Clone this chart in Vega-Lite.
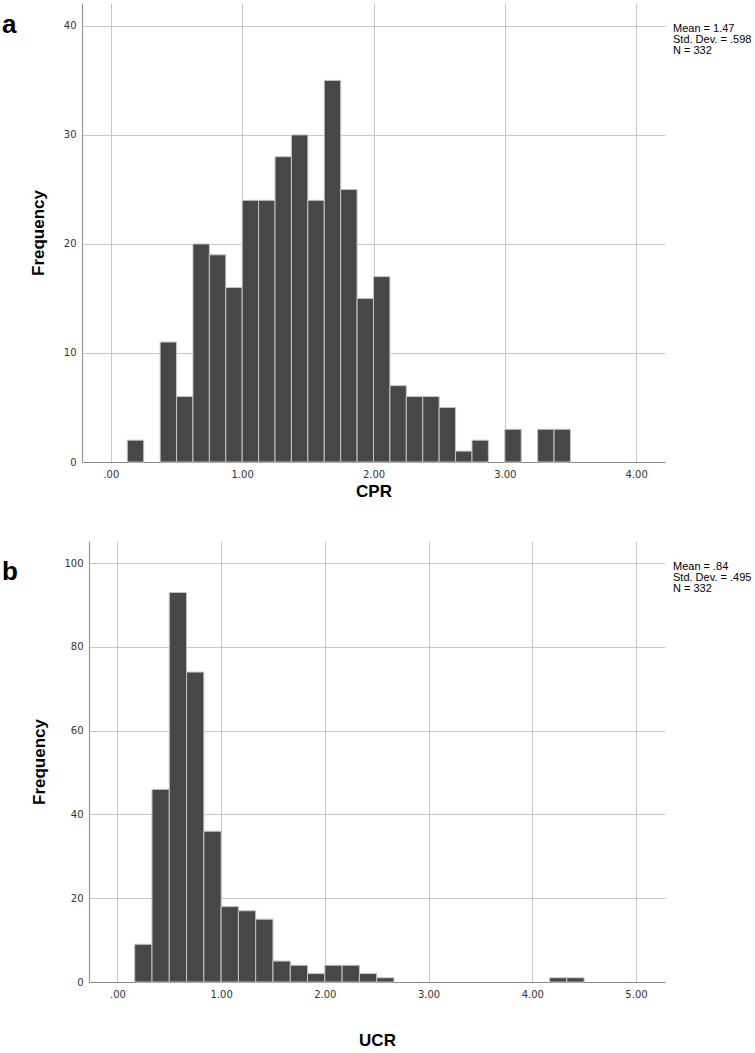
{
  "$schema": "https://vega.github.io/schema/vega-lite/v6.json",
  "padding": {"left": 2, "top": 3, "right": 0, "bottom": 0},
  "autosize": {"type": "pad"},
  "background": "white",
  "spacing": 42,
  "config": {
    "view": {"stroke": null},
    "axis": {
      "labelFont": "DejaVu Sans", "labelFontSize": 10, "labelColor": "#333",
      "titleFont": "Liberation Sans", "titleFontSize": 17, "titleFontWeight": "bold", "titleColor": "#000",
      "gridColor": "#c8c8c8", "gridWidth": 1, "ticks": false,
      "domainColor": "#999", "domainWidth": 1.2, "labelFlush": false
    }
  },
  "datasets": {
    "cpr": [
      {"bin_start": 0.125, "bin_end": 0.25, "count": 2},
      {"bin_start": 0.375, "bin_end": 0.5, "count": 11},
      {"bin_start": 0.5, "bin_end": 0.625, "count": 6},
      {"bin_start": 0.625, "bin_end": 0.75, "count": 20},
      {"bin_start": 0.75, "bin_end": 0.875, "count": 19},
      {"bin_start": 0.875, "bin_end": 1.0, "count": 16},
      {"bin_start": 1.0, "bin_end": 1.125, "count": 24},
      {"bin_start": 1.125, "bin_end": 1.25, "count": 24},
      {"bin_start": 1.25, "bin_end": 1.375, "count": 28},
      {"bin_start": 1.375, "bin_end": 1.5, "count": 30},
      {"bin_start": 1.5, "bin_end": 1.625, "count": 24},
      {"bin_start": 1.625, "bin_end": 1.75, "count": 35},
      {"bin_start": 1.75, "bin_end": 1.875, "count": 25},
      {"bin_start": 1.875, "bin_end": 2.0, "count": 15},
      {"bin_start": 2.0, "bin_end": 2.125, "count": 17},
      {"bin_start": 2.125, "bin_end": 2.25, "count": 7},
      {"bin_start": 2.25, "bin_end": 2.375, "count": 6},
      {"bin_start": 2.375, "bin_end": 2.5, "count": 6},
      {"bin_start": 2.5, "bin_end": 2.625, "count": 5},
      {"bin_start": 2.625, "bin_end": 2.75, "count": 1},
      {"bin_start": 2.75, "bin_end": 2.875, "count": 2},
      {"bin_start": 3.0, "bin_end": 3.125, "count": 3},
      {"bin_start": 3.25, "bin_end": 3.375, "count": 3},
      {"bin_start": 3.375, "bin_end": 3.5, "count": 3}
    ],
    "ucr": [
      {"bin_start": 0.1667, "bin_end": 0.3333, "count": 9},
      {"bin_start": 0.3333, "bin_end": 0.5, "count": 46},
      {"bin_start": 0.5, "bin_end": 0.6667, "count": 93},
      {"bin_start": 0.6667, "bin_end": 0.8333, "count": 74},
      {"bin_start": 0.8333, "bin_end": 1.0, "count": 36},
      {"bin_start": 1.0, "bin_end": 1.1667, "count": 18},
      {"bin_start": 1.1667, "bin_end": 1.3333, "count": 17},
      {"bin_start": 1.3333, "bin_end": 1.5, "count": 15},
      {"bin_start": 1.5, "bin_end": 1.6667, "count": 5},
      {"bin_start": 1.6667, "bin_end": 1.8333, "count": 4},
      {"bin_start": 1.8333, "bin_end": 2.0, "count": 2},
      {"bin_start": 2.0, "bin_end": 2.1667, "count": 4},
      {"bin_start": 2.1667, "bin_end": 2.3333, "count": 4},
      {"bin_start": 2.3333, "bin_end": 2.5, "count": 2},
      {"bin_start": 2.5, "bin_end": 2.6667, "count": 1},
      {"bin_start": 4.1667, "bin_end": 4.3333, "count": 1},
      {"bin_start": 4.3333, "bin_end": 4.5, "count": 1}
    ],
    "labelA": [{"panel": "a", "stats": "Mean = 1.47\nStd. Dev. = .598\nN = 332"}],
    "labelB": [{"panel": "b", "stats": "Mean = .84\nStd. Dev. = .495\nN = 332"}]
  },
  "vconcat": [
    {
      "width": 583,
      "height": 459,
      "layer": [
        {
          "data": {"name": "cpr"},
          "mark": {"type": "bar", "fill": "#474747", "stroke": "#c4c4c4", "strokeWidth": 1},
          "encoding": {
            "x": {"field": "bin_start", "type": "quantitative",
              "scale": {"domain": [-0.22, 4.22], "nice": false, "zero": false},
              "axis": {"title": "CPR", "values": [0, 1, 2, 3, 4], "labelExpr": "datum.value == 0 ? '.00' : format(datum.value, '.2f')", "labelPadding": 7, "titlePadding": 4, "grid": true, "domainColor": "#888"}},
            "x2": {"field": "bin_end"},
            "y": {"field": "count", "type": "quantitative",
              "scale": {"domain": [0, 42.1], "nice": false},
              "axis": {"title": "Frequency", "values": [0, 10, 20, 30, 40], "labelPadding": 6, "titlePadding": 16, "grid": true}},
            "y2": {"datum": 0}
          }
        },
        {
          "data": {"name": "labelA"},
          "mark": {"type": "text", "align": "left", "baseline": "top", "dx": 8, "font": "Liberation Sans", "fontSize": 11, "lineHeight": 11, "lineBreak": "\n", "color": "#000"},
          "encoding": {
            "x": {"datum": 4.22, "type": "quantitative"},
            "y": {"datum": 40.3, "type": "quantitative"},
            "text": {"field": "stats"}
          }
        },
        {
          "data": {"name": "labelA"},
          "mark": {"type": "text", "align": "left", "baseline": "alphabetic", "dx": -80, "dy": 30, "font": "Liberation Sans", "fontSize": 26, "fontWeight": "bold", "color": "#000"},
          "encoding": {
            "x": {"datum": -0.22, "type": "quantitative"},
            "y": {"datum": 42.1, "type": "quantitative"},
            "text": {"field": "panel"}
          }
        }
      ]
    },
    {
      "width": 583,
      "height": 441,
      "layer": [
        {
          "data": {"name": "ucr"},
          "mark": {"type": "bar", "fill": "#474747", "stroke": "#c4c4c4", "strokeWidth": 1},
          "encoding": {
            "x": {"field": "bin_start", "type": "quantitative",
              "scale": {"domain": [-0.274, 5.28], "range": [7, 583], "nice": false, "zero": false},
              "axis": {"title": "UCR", "values": [0, 1, 2, 3, 4, 5], "labelExpr": "datum.value == 0 ? '.00' : format(datum.value, '.2f')", "labelPadding": 7, "titlePadding": 33, "grid": true, "domainColor": "#888"}},
            "x2": {"field": "bin_end"},
            "y": {"field": "count", "type": "quantitative",
              "scale": {"domain": [0, 105.3], "nice": false},
              "axis": {"title": "Frequency", "values": [0, 20, 40, 60, 80, 100], "labelPadding": 6, "titlePadding": 15, "grid": true, "offset": -7}},
            "y2": {"datum": 0}
          }
        },
        {
          "data": {"name": "labelB"},
          "mark": {"type": "text", "align": "left", "baseline": "top", "dx": 8, "font": "Liberation Sans", "fontSize": 11, "lineHeight": 11, "lineBreak": "\n", "color": "#000"},
          "encoding": {
            "x": {"datum": 5.28, "type": "quantitative"},
            "y": {"datum": 100.6, "type": "quantitative"},
            "text": {"field": "stats"}
          }
        },
        {
          "data": {"name": "labelB"},
          "mark": {"type": "text", "align": "left", "baseline": "alphabetic", "dx": -87, "dy": 39, "font": "Liberation Sans", "fontSize": 26, "fontWeight": "bold", "color": "#000"},
          "encoding": {
            "x": {"datum": -0.274, "type": "quantitative"},
            "y": {"datum": 105.3, "type": "quantitative"},
            "text": {"field": "panel"}
          }
        }
      ]
    }
  ]
}
